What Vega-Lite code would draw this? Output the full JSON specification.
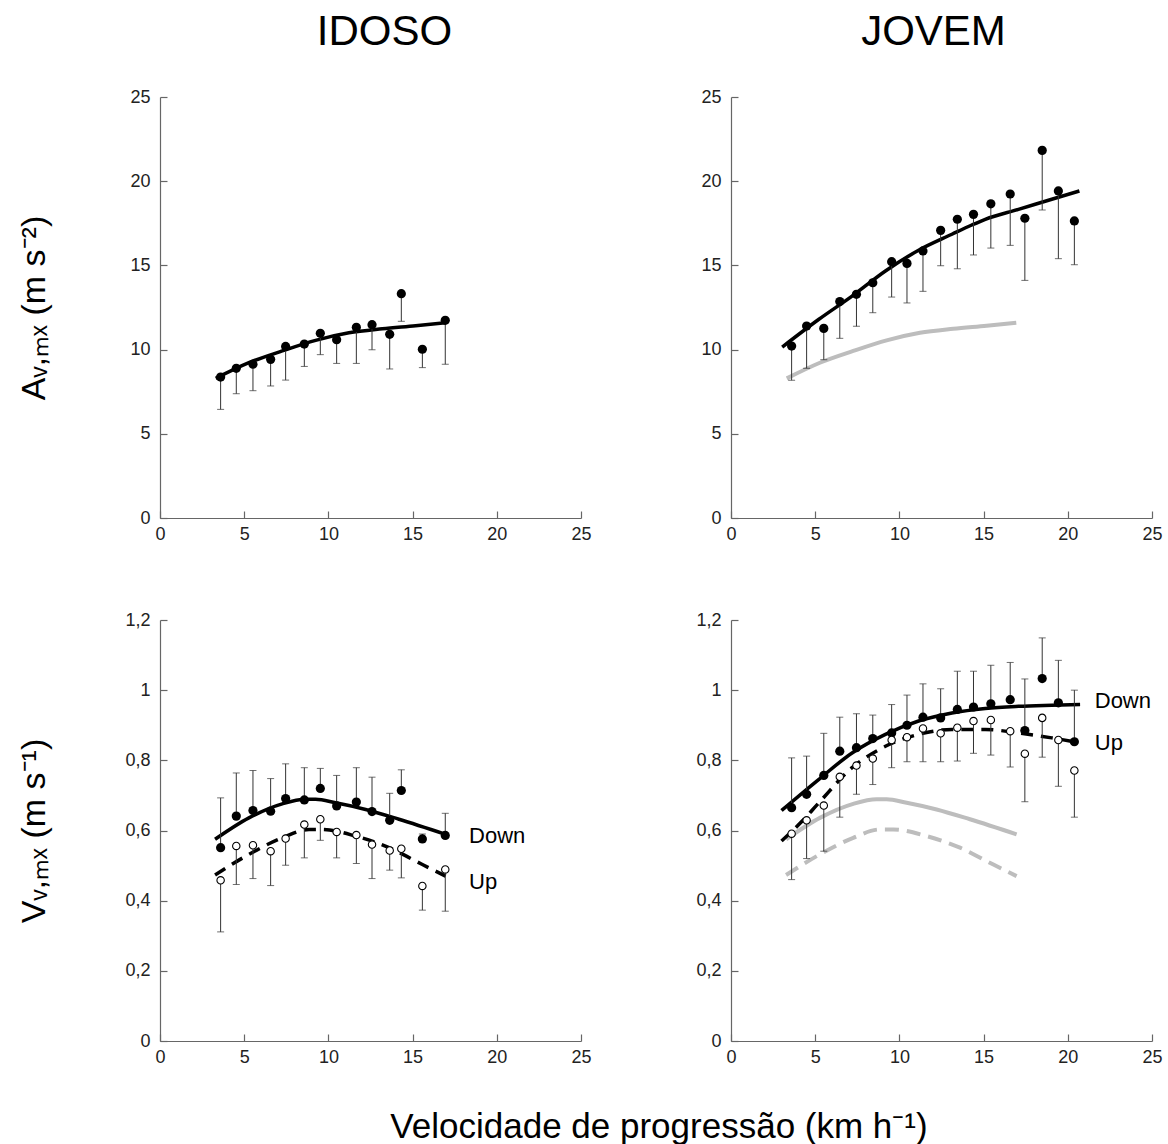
{
  "$schema": "https://vega.github.io/schema/vega-lite/v6.json",
  "padding": {"left": 17, "top": 11, "right": 5, "bottom": 0},
  "background": "white",
  "title": {"text": "Velocidade de progressão (km h⁻¹)", "orient": "bottom", "anchor": "middle", "frame": "group", "dx": 499, "fontSize": 35, "fontWeight": "normal", "font": "Liberation Sans", "color": "black", "baseline": "alphabetic", "offset": 72},
  "columns": 2,
  "spacing": {"row": 102, "column": 150},
  "bounds": "flush",
  "datasets": {
    "idoso_a_pts": [
      {"x": 3.6, "y": 8.37, "err": 6.45}, {"x": 4.53, "y": 8.89, "err": 7.38}, {"x": 5.52, "y": 9.13, "err": 7.56},
      {"x": 6.57, "y": 9.42, "err": 7.84}, {"x": 7.46, "y": 10.19, "err": 8.19}, {"x": 8.57, "y": 10.33, "err": 9.0},
      {"x": 9.52, "y": 10.97, "err": 9.7}, {"x": 10.49, "y": 10.59, "err": 9.18}, {"x": 11.66, "y": 11.32, "err": 9.18},
      {"x": 12.59, "y": 11.48, "err": 9.99}, {"x": 13.64, "y": 10.91, "err": 8.85}, {"x": 14.33, "y": 13.32, "err": 11.68},
      {"x": 15.58, "y": 10.02, "err": 8.93}, {"x": 16.94, "y": 11.74, "err": 9.13}
    ],
    "idoso_a_fit": [
      {"x": 3.31, "y": 8.29}, {"x": 5.28, "y": 9.22}, {"x": 7.26, "y": 9.92}, {"x": 9.24, "y": 10.55},
      {"x": 11.22, "y": 11.0}, {"x": 13.2, "y": 11.24}, {"x": 15.18, "y": 11.42}, {"x": 16.94, "y": 11.6}
    ],
    "jovem_a_pts": [
      {"x": 3.6, "y": 10.21, "err": 8.18}, {"x": 4.49, "y": 11.4, "err": 8.89}, {"x": 5.51, "y": 11.26, "err": 9.4},
      {"x": 6.46, "y": 12.85, "err": 10.67}, {"x": 7.45, "y": 13.28, "err": 11.38}, {"x": 8.42, "y": 13.97, "err": 12.19},
      {"x": 9.54, "y": 15.22, "err": 13.12}, {"x": 10.45, "y": 15.12, "err": 12.77}, {"x": 11.4, "y": 15.86, "err": 13.46},
      {"x": 12.45, "y": 17.08, "err": 14.98}, {"x": 13.44, "y": 17.74, "err": 14.8}, {"x": 14.4, "y": 18.03, "err": 15.62},
      {"x": 15.43, "y": 18.66, "err": 16.03}, {"x": 16.58, "y": 19.24, "err": 16.19}, {"x": 17.45, "y": 17.8, "err": 14.11},
      {"x": 18.48, "y": 21.83, "err": 18.29}, {"x": 19.44, "y": 19.42, "err": 15.4}, {"x": 20.39, "y": 17.64, "err": 15.04}
    ],
    "jovem_a_fit": [
      {"x": 3.04, "y": 10.15}, {"x": 5.22, "y": 11.8}, {"x": 7.19, "y": 13.18}, {"x": 9.17, "y": 14.67},
      {"x": 11.14, "y": 15.9}, {"x": 13.12, "y": 16.85}, {"x": 14.3, "y": 17.4}, {"x": 15.1, "y": 17.74},
      {"x": 17.07, "y": 18.33}, {"x": 19.05, "y": 18.93}, {"x": 20.69, "y": 19.42}
    ],
    "idoso_v_pts": [
      {"x": 3.6, "series": "Down", "y": 0.551, "err": 0.693}, {"x": 4.53, "series": "Down", "y": 0.641, "err": 0.764},
      {"x": 5.52, "series": "Down", "y": 0.657, "err": 0.771}, {"x": 6.57, "series": "Down", "y": 0.655, "err": 0.748},
      {"x": 7.46, "series": "Down", "y": 0.691, "err": 0.79}, {"x": 8.57, "series": "Down", "y": 0.687, "err": 0.779},
      {"x": 9.52, "series": "Down", "y": 0.72, "err": 0.777}, {"x": 10.49, "series": "Down", "y": 0.67, "err": 0.757},
      {"x": 11.66, "series": "Down", "y": 0.681, "err": 0.779}, {"x": 12.59, "series": "Down", "y": 0.654, "err": 0.752},
      {"x": 13.64, "series": "Down", "y": 0.629, "err": 0.706}, {"x": 14.33, "series": "Down", "y": 0.714, "err": 0.773},
      {"x": 15.58, "series": "Down", "y": 0.576, "err": 0.59}, {"x": 16.94, "series": "Down", "y": 0.586, "err": 0.649},
      {"x": 3.6, "series": "Up", "y": 0.458, "err": 0.311}, {"x": 4.53, "series": "Up", "y": 0.556, "err": 0.446},
      {"x": 5.52, "series": "Up", "y": 0.558, "err": 0.463}, {"x": 6.57, "series": "Up", "y": 0.541, "err": 0.443},
      {"x": 7.46, "series": "Up", "y": 0.577, "err": 0.501}, {"x": 8.57, "series": "Up", "y": 0.617, "err": 0.522},
      {"x": 9.52, "series": "Up", "y": 0.632, "err": 0.572}, {"x": 10.49, "series": "Up", "y": 0.596, "err": 0.522},
      {"x": 11.66, "series": "Up", "y": 0.587, "err": 0.506}, {"x": 12.59, "series": "Up", "y": 0.56, "err": 0.463},
      {"x": 13.64, "series": "Up", "y": 0.543, "err": 0.487}, {"x": 14.33, "series": "Up", "y": 0.548, "err": 0.465},
      {"x": 15.58, "series": "Up", "y": 0.442, "err": 0.373}, {"x": 16.94, "series": "Up", "y": 0.489, "err": 0.37}
    ],
    "idoso_v_fit": [
      {"x": 3.27, "series": "Down", "y": 0.575}, {"x": 5.28, "series": "Down", "y": 0.636}, {"x": 7.26, "series": "Down", "y": 0.676},
      {"x": 8.65, "series": "Down", "y": 0.689}, {"x": 9.24, "series": "Down", "y": 0.689}, {"x": 10.43, "series": "Down", "y": 0.679},
      {"x": 12.21, "series": "Down", "y": 0.66}, {"x": 14.19, "series": "Down", "y": 0.632}, {"x": 16.96, "series": "Down", "y": 0.589},
      {"x": 3.27, "series": "Up", "y": 0.473}, {"x": 5.28, "series": "Up", "y": 0.532}, {"x": 7.26, "series": "Up", "y": 0.579},
      {"x": 8.85, "series": "Up", "y": 0.603}, {"x": 9.64, "series": "Up", "y": 0.603}, {"x": 11.62, "series": "Up", "y": 0.584},
      {"x": 13.6, "series": "Up", "y": 0.551}, {"x": 15.58, "series": "Up", "y": 0.503}, {"x": 16.96, "series": "Up", "y": 0.47}
    ],
    "jovem_v_pts": [
      {"x": 3.6, "series": "Down", "y": 0.665, "err": 0.807}, {"x": 4.49, "series": "Down", "y": 0.703, "err": 0.812},
      {"x": 5.51, "series": "Down", "y": 0.757, "err": 0.877}, {"x": 6.46, "series": "Down", "y": 0.826, "err": 0.923},
      {"x": 7.45, "series": "Down", "y": 0.836, "err": 0.933}, {"x": 8.42, "series": "Down", "y": 0.862, "err": 0.929},
      {"x": 9.54, "series": "Down", "y": 0.878, "err": 0.959}, {"x": 10.45, "series": "Down", "y": 0.9, "err": 0.986},
      {"x": 11.4, "series": "Down", "y": 0.923, "err": 1.018}, {"x": 12.45, "series": "Down", "y": 0.921, "err": 1.004},
      {"x": 13.44, "series": "Down", "y": 0.945, "err": 1.054}, {"x": 14.4, "series": "Down", "y": 0.952, "err": 1.054},
      {"x": 15.43, "series": "Down", "y": 0.961, "err": 1.071}, {"x": 16.58, "series": "Down", "y": 0.973, "err": 1.079},
      {"x": 17.45, "series": "Down", "y": 0.885, "err": 1.032}, {"x": 18.48, "series": "Down", "y": 1.033, "err": 1.149},
      {"x": 19.44, "series": "Down", "y": 0.964, "err": 1.085}, {"x": 20.39, "series": "Down", "y": 0.853, "err": 1.0},
      {"x": 3.6, "series": "Up", "y": 0.591, "err": 0.46}, {"x": 4.49, "series": "Up", "y": 0.629, "err": 0.52},
      {"x": 5.51, "series": "Up", "y": 0.671, "err": 0.541}, {"x": 6.46, "series": "Up", "y": 0.753, "err": 0.638},
      {"x": 7.45, "series": "Up", "y": 0.785, "err": 0.703}, {"x": 8.42, "series": "Up", "y": 0.805, "err": 0.731},
      {"x": 9.54, "series": "Up", "y": 0.858, "err": 0.779}, {"x": 10.45, "series": "Up", "y": 0.866, "err": 0.796},
      {"x": 11.4, "series": "Up", "y": 0.891, "err": 0.796}, {"x": 12.45, "series": "Up", "y": 0.877, "err": 0.796},
      {"x": 13.44, "series": "Up", "y": 0.893, "err": 0.798}, {"x": 14.4, "series": "Up", "y": 0.912, "err": 0.82},
      {"x": 15.43, "series": "Up", "y": 0.915, "err": 0.815}, {"x": 16.58, "series": "Up", "y": 0.883, "err": 0.781},
      {"x": 17.45, "series": "Up", "y": 0.819, "err": 0.682}, {"x": 18.48, "series": "Up", "y": 0.921, "err": 0.809},
      {"x": 19.44, "series": "Up", "y": 0.858, "err": 0.726}, {"x": 20.39, "series": "Up", "y": 0.771, "err": 0.638}
    ],
    "jovem_v_fit": [
      {"x": 3.0, "series": "Down", "y": 0.657}, {"x": 5.22, "series": "Down", "y": 0.746}, {"x": 7.19, "series": "Down", "y": 0.821},
      {"x": 9.17, "series": "Down", "y": 0.874}, {"x": 11.14, "series": "Down", "y": 0.912}, {"x": 13.12, "series": "Down", "y": 0.935},
      {"x": 15.1, "series": "Down", "y": 0.948}, {"x": 17.07, "series": "Down", "y": 0.954}, {"x": 19.05, "series": "Down", "y": 0.957},
      {"x": 20.73, "series": "Down", "y": 0.959},
      {"x": 3.0, "series": "Up", "y": 0.57}, {"x": 4.23, "series": "Up", "y": 0.627}, {"x": 5.22, "series": "Up", "y": 0.679},
      {"x": 7.19, "series": "Up", "y": 0.779}, {"x": 9.17, "series": "Up", "y": 0.84}, {"x": 11.14, "series": "Up", "y": 0.874},
      {"x": 13.12, "series": "Up", "y": 0.888}, {"x": 15.1, "series": "Up", "y": 0.888}, {"x": 17.07, "series": "Up", "y": 0.878},
      {"x": 19.05, "series": "Up", "y": 0.864}, {"x": 20.39, "series": "Up", "y": 0.853}
    ],
    "idoso_v_lab": [{"x": 18.35, "y": 0.584, "text": "Down"}, {"x": 18.35, "y": 0.453, "text": "Up"}],
    "jovem_v_lab": [{"x": 21.6, "y": 0.969, "text": "Down"}, {"x": 21.6, "y": 0.85, "text": "Up"}]
  },
  "concat": [
    {
      "width": 421, "height": 421,
      "title": {"text": "IDOSO", "fontSize": 42, "font": "Liberation Sans", "fontWeight": "normal", "color": "black", "baseline": "alphabetic", "offset": 1, "dx": 14, "anchor": "middle"},
      "layer": [
        {"data": {"name": "idoso_a_fit"}, "mark": {"type": "line", "color": "black", "strokeWidth": 3.5, "interpolate": "monotone"},
         "encoding": {
           "x": {"field": "x", "type": "quantitative", "scale": {"domain": [0, 25], "nice": false}, "axis": {"values": [0, 5, 10, 15, 20, 25], "title": null, "labelPadding": 14}},
           "y": {"field": "y", "type": "quantitative", "scale": {"domain": [0, 25], "nice": false},
                 "axis": {"values": [0, 5, 10, 15, 20, 25], "title": "Aᵥ,ₘₓ   (m s⁻²)", "titlePadding": 78, "titleFontSize": 34}}}},
        {"data": {"name": "idoso_a_pts"}, "mark": {"type": "rule", "color": "#333", "strokeWidth": 1},
         "encoding": {"x": {"field": "x", "type": "quantitative"}, "y": {"field": "y", "type": "quantitative"}, "y2": {"field": "err"}}},
        {"data": {"name": "idoso_a_pts"}, "mark": {"type": "tick", "orient": "horizontal", "size": 7, "thickness": 1, "color": "#333"},
         "encoding": {"x": {"field": "x", "type": "quantitative"}, "y": {"field": "err", "type": "quantitative"}}},
        {"data": {"name": "idoso_a_pts"}, "mark": {"type": "point", "filled": true, "size": 85, "color": "black", "opacity": 1},
         "encoding": {"x": {"field": "x", "type": "quantitative"}, "y": {"field": "y", "type": "quantitative"}}}
      ]
    },
    {
      "width": 421, "height": 421,
      "title": {"text": "JOVEM", "fontSize": 42, "font": "Liberation Sans", "fontWeight": "normal", "color": "black", "baseline": "alphabetic", "offset": 1, "dx": -8, "anchor": "middle"},
      "layer": [
        {"data": {"name": "idoso_a_fit"}, "mark": {"type": "line", "color": "#bdbdbd", "strokeWidth": 4, "interpolate": "monotone"},
         "encoding": {
           "x": {"field": "x", "type": "quantitative", "scale": {"domain": [0, 25], "nice": false}, "axis": {"values": [0, 5, 10, 15, 20, 25], "title": null, "labelPadding": 14}},
           "y": {"field": "y", "type": "quantitative", "scale": {"domain": [0, 25], "nice": false}, "axis": {"values": [0, 5, 10, 15, 20, 25], "title": null}}}},
        {"data": {"name": "jovem_a_fit"}, "mark": {"type": "line", "color": "black", "strokeWidth": 3.5, "interpolate": "monotone"},
         "encoding": {"x": {"field": "x", "type": "quantitative"}, "y": {"field": "y", "type": "quantitative"}}},
        {"data": {"name": "jovem_a_pts"}, "mark": {"type": "rule", "color": "#333", "strokeWidth": 1},
         "encoding": {"x": {"field": "x", "type": "quantitative"}, "y": {"field": "y", "type": "quantitative"}, "y2": {"field": "err"}}},
        {"data": {"name": "jovem_a_pts"}, "mark": {"type": "tick", "orient": "horizontal", "size": 7, "thickness": 1, "color": "#333"},
         "encoding": {"x": {"field": "x", "type": "quantitative"}, "y": {"field": "err", "type": "quantitative"}}},
        {"data": {"name": "jovem_a_pts"}, "mark": {"type": "point", "filled": true, "size": 85, "color": "black", "opacity": 1},
         "encoding": {"x": {"field": "x", "type": "quantitative"}, "y": {"field": "y", "type": "quantitative"}}}
      ]
    },
    {
      "width": 421, "height": 421,
      "layer": [
        {"data": {"name": "idoso_v_fit"}, "transform": [{"filter": "datum.series == 'Down'"}], "mark": {"type": "line", "color": "black", "strokeWidth": 3.5, "interpolate": "monotone"},
         "encoding": {
           "x": {"field": "x", "type": "quantitative", "scale": {"domain": [0, 25], "nice": false}, "axis": {"values": [0, 5, 10, 15, 20, 25], "title": null, "labelPadding": 14}},
           "y": {"field": "y", "type": "quantitative", "scale": {"domain": [0, 1.2], "nice": false},
                 "axis": {"values": [0, 0.2, 0.4, 0.6, 0.8, 1, 1.2], "labelExpr": "replace(format(datum.value, '.1~f'), '.', ',')", "title": "Vᵥ,ₘₓ   (m s⁻¹)", "titlePadding": 73, "titleFontSize": 34}}}},
        {"data": {"name": "idoso_v_fit"}, "transform": [{"filter": "datum.series == 'Up'"}], "mark": {"type": "line", "color": "black", "strokeWidth": 3.5, "strokeDash": [12, 8], "interpolate": "monotone"},
         "encoding": {"x": {"field": "x", "type": "quantitative"}, "y": {"field": "y", "type": "quantitative"}}},
        {"data": {"name": "idoso_v_pts"}, "mark": {"type": "rule", "color": "#333", "strokeWidth": 1},
         "encoding": {"x": {"field": "x", "type": "quantitative"}, "y": {"field": "y", "type": "quantitative"}, "y2": {"field": "err"}}},
        {"data": {"name": "idoso_v_pts"}, "mark": {"type": "tick", "orient": "horizontal", "size": 7, "thickness": 1, "color": "#333"},
         "encoding": {"x": {"field": "x", "type": "quantitative"}, "y": {"field": "err", "type": "quantitative"}}},
        {"data": {"name": "idoso_v_pts"}, "transform": [{"filter": "datum.series == 'Down'"}], "mark": {"type": "point", "filled": true, "size": 85, "color": "black", "opacity": 1},
         "encoding": {"x": {"field": "x", "type": "quantitative"}, "y": {"field": "y", "type": "quantitative"}}},
        {"data": {"name": "idoso_v_pts"}, "transform": [{"filter": "datum.series == 'Up'"}], "mark": {"type": "point", "shape": "circle", "filled": false, "fill": "white", "stroke": "black", "strokeWidth": 1.1, "size": 55, "opacity": 1},
         "encoding": {"x": {"field": "x", "type": "quantitative"}, "y": {"field": "y", "type": "quantitative"}}},
        {"data": {"name": "idoso_v_lab"}, "mark": {"type": "text", "align": "left", "baseline": "middle", "fontSize": 22, "font": "Liberation Sans", "color": "black"},
         "encoding": {"x": {"field": "x", "type": "quantitative"}, "y": {"field": "y", "type": "quantitative"}, "text": {"field": "text"}}}
      ]
    },
    {
      "width": 421, "height": 421,
      "layer": [
        {"data": {"name": "idoso_v_fit"}, "transform": [{"filter": "datum.series == 'Down'"}], "mark": {"type": "line", "color": "#bdbdbd", "strokeWidth": 4, "interpolate": "monotone"},
         "encoding": {
           "x": {"field": "x", "type": "quantitative", "scale": {"domain": [0, 25], "nice": false}, "axis": {"values": [0, 5, 10, 15, 20, 25], "title": null, "labelPadding": 14}},
           "y": {"field": "y", "type": "quantitative", "scale": {"domain": [0, 1.2], "nice": false},
                 "axis": {"values": [0, 0.2, 0.4, 0.6, 0.8, 1, 1.2], "labelExpr": "replace(format(datum.value, '.1~f'), '.', ',')", "title": null}}}},
        {"data": {"name": "idoso_v_fit"}, "transform": [{"filter": "datum.series == 'Up'"}], "mark": {"type": "line", "color": "#bdbdbd", "strokeWidth": 4, "strokeDash": [14, 8], "interpolate": "monotone"},
         "encoding": {"x": {"field": "x", "type": "quantitative"}, "y": {"field": "y", "type": "quantitative"}}},
        {"data": {"name": "jovem_v_fit"}, "transform": [{"filter": "datum.series == 'Down'"}], "mark": {"type": "line", "color": "black", "strokeWidth": 3.5, "interpolate": "monotone"},
         "encoding": {"x": {"field": "x", "type": "quantitative"}, "y": {"field": "y", "type": "quantitative"}}},
        {"data": {"name": "jovem_v_fit"}, "transform": [{"filter": "datum.series == 'Up'"}], "mark": {"type": "line", "color": "black", "strokeWidth": 3.5, "strokeDash": [12, 8], "interpolate": "monotone"},
         "encoding": {"x": {"field": "x", "type": "quantitative"}, "y": {"field": "y", "type": "quantitative"}}},
        {"data": {"name": "jovem_v_pts"}, "mark": {"type": "rule", "color": "#333", "strokeWidth": 1},
         "encoding": {"x": {"field": "x", "type": "quantitative"}, "y": {"field": "y", "type": "quantitative"}, "y2": {"field": "err"}}},
        {"data": {"name": "jovem_v_pts"}, "mark": {"type": "tick", "orient": "horizontal", "size": 7, "thickness": 1, "color": "#333"},
         "encoding": {"x": {"field": "x", "type": "quantitative"}, "y": {"field": "err", "type": "quantitative"}}},
        {"data": {"name": "jovem_v_pts"}, "transform": [{"filter": "datum.series == 'Down'"}], "mark": {"type": "point", "filled": true, "size": 85, "color": "black", "opacity": 1},
         "encoding": {"x": {"field": "x", "type": "quantitative"}, "y": {"field": "y", "type": "quantitative"}}},
        {"data": {"name": "jovem_v_pts"}, "transform": [{"filter": "datum.series == 'Up'"}], "mark": {"type": "point", "shape": "circle", "filled": false, "fill": "white", "stroke": "black", "strokeWidth": 1.1, "size": 55, "opacity": 1},
         "encoding": {"x": {"field": "x", "type": "quantitative"}, "y": {"field": "y", "type": "quantitative"}}},
        {"data": {"name": "jovem_v_lab"}, "mark": {"type": "text", "align": "left", "baseline": "middle", "fontSize": 22, "font": "Liberation Sans", "color": "black"},
         "encoding": {"x": {"field": "x", "type": "quantitative"}, "y": {"field": "y", "type": "quantitative"}, "text": {"field": "text"}}}
      ]
    }
  ],
  "config": {
    "view": {"stroke": null},
    "font": "Liberation Sans",
    "axis": {
      "grid": false, "domainColor": "#666", "domainWidth": 1.2, "tickColor": "#666", "tickWidth": 1.2, "tickSize": -7,
      "labelFont": "Liberation Sans", "labelFontSize": 18, "labelColor": "#222", "labelPadding": 17, "labelFlush": false, "labelOverlap": false,
      "titleFont": "Liberation Sans", "titleFontWeight": "normal", "titleColor": "black"
    }
  }
}
